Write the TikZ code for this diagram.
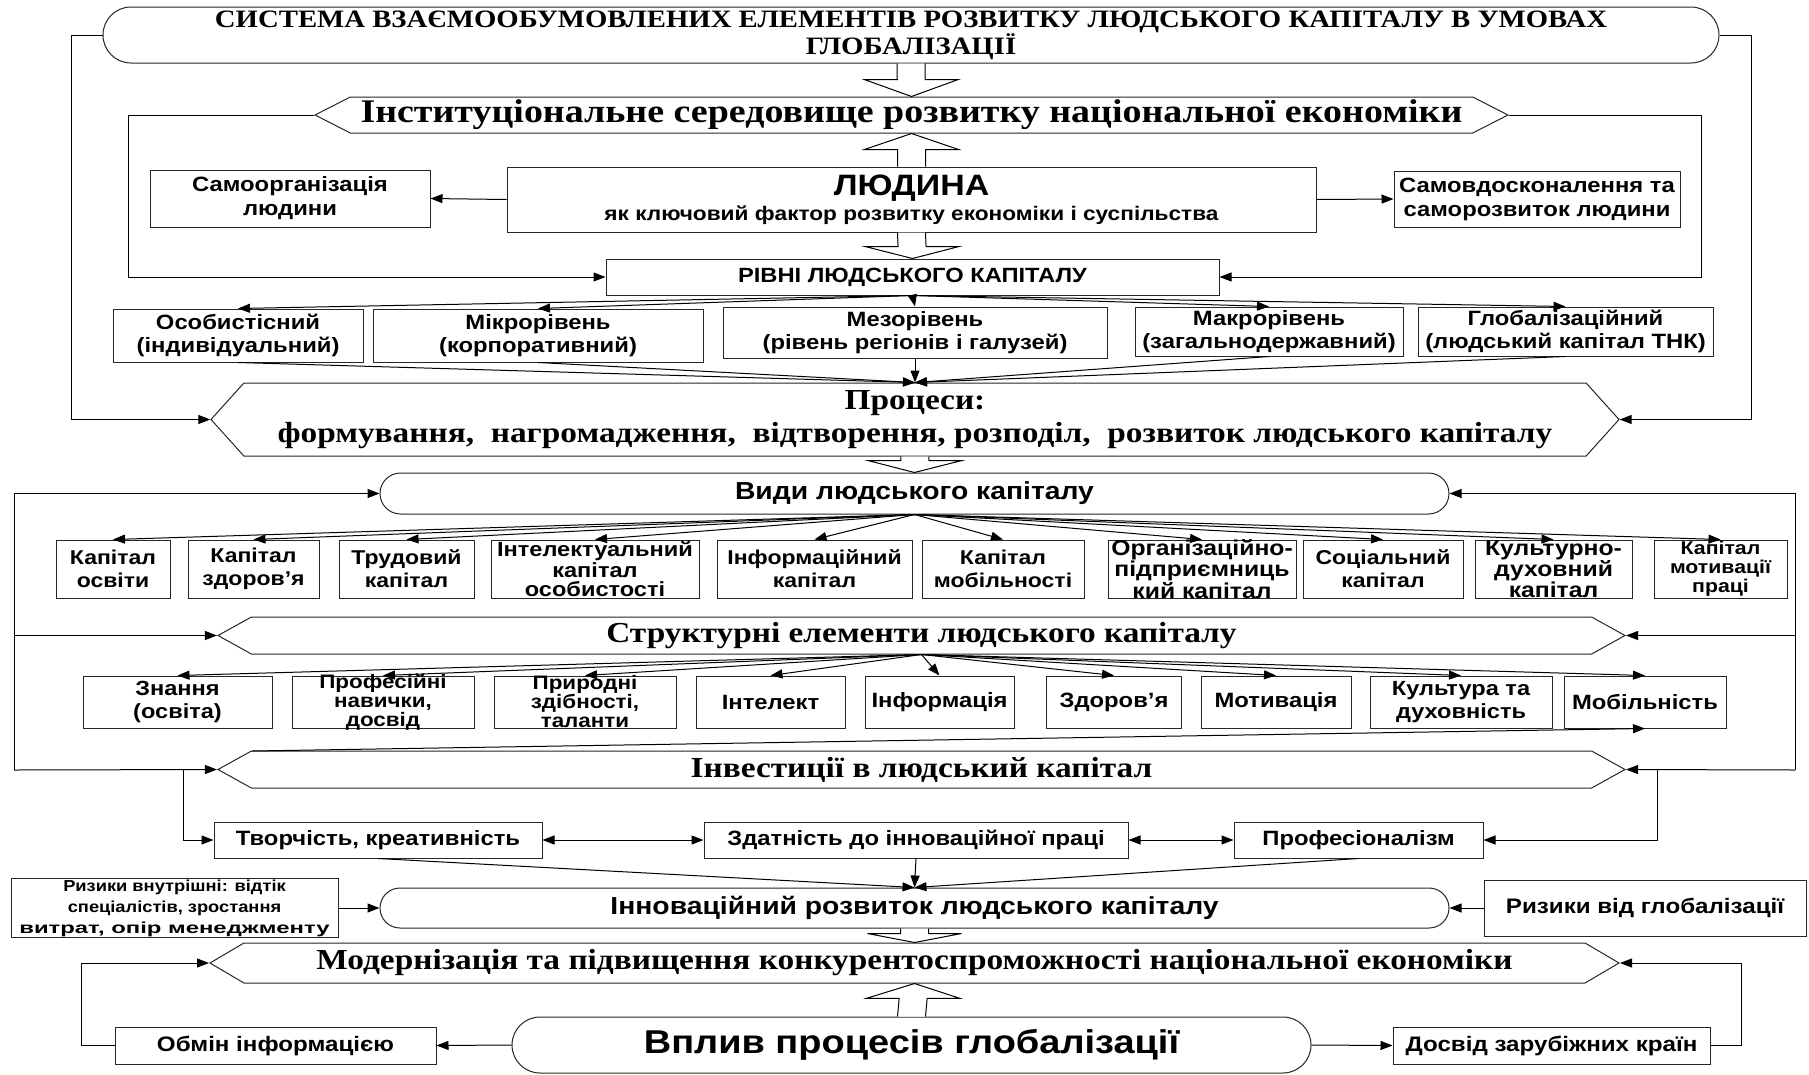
\documentclass[tikz,border=0pt]{standalone}
\usepackage{fontspec}
\setmainfont{Liberation Serif}
\newfontfamily\hdfont[FakeStretch=1.15]{Liberation Serif}
\newfontfamily\lbfont[FakeStretch=1.15]{Liberation Sans}
\newfontfamily\lbwide[FakeStretch=1.5]{Liberation Sans}
\usetikzlibrary{arrows.meta,positioning,calc,shapes.misc,shapes.symbols}
\tikzset{
  box/.style={draw=black!85,fill=white,line width=1pt,inner sep=1pt,align=center,font=\lbfont\bfseries\fontsize{20.7}{24}\selectfont},
  tight/.style={inner ysep=-6pt,font=\lbfont\bfseries\fontsize{20.5}{19}\selectfont},
  pill/.style={draw=black!85,fill=white,line width=1pt,rounded rectangle,inner sep=1pt,align=center,font=\lbfont\bfseries\fontsize{24.6}{26}\selectfont},
  banner/.style={draw=black!85,fill=white,line width=1pt,signal,signal to=east and west,signal pointer angle=#1,inner xsep=1pt,inner ysep=-2pt,align=center,font=\hdfont\bfseries\fontsize{29}{33}\selectfont},
  flow/.style={-{Triangle[length=12pt,width=9pt]},line width=1pt},
  dflow/.style={{Triangle[length=12pt,width=9pt]}-{Triangle[length=12pt,width=9pt]},line width=1pt},
  blockarr/.style={line width=1pt,fill=white}
}
% hollow block arrow: start, tip, head length
\newcommand{\blockarrow}[3]{%
  \coordinate (ba) at ($(#2)!#3!(#1)$);
  \draw[blockarr] ($(#1)+(-14,0)$) -- ($(ba)+(-14,0)$) -- ($(ba)+(-47,0)$) -- (#2) -- ($(ba)+(47,0)$) -- ($(ba)+(14,0)$) -- ($(#1)+(14,0)$);}

\begin{document}
\begin{tikzpicture}[x=1pt,y=-1pt]
  \useasboundingbox (0,0) rectangle (1809,1074);

  % top part
  \node[pill,minimum width=1618pt,minimum height=56pt,font=\hdfont\bfseries\fontsize{25}{27}\selectfont] (title) at (911,35) {СИСТЕМА ВЗАЄМООБУМОВЛЕНИХ ЕЛЕМЕНТІВ РОЗВИТКУ ЛЮДСЬКОГО КАПІТАЛУ В УМОВАХ\\ГЛОБАЛІЗАЦІЇ};
  \node[banner=54,minimum width=1193pt,minimum height=36pt,font=\hdfont\bfseries\fontsize{33}{36}\selectfont] (inst) at (911.5,115) {Інституціональне середовище розвитку національної економіки};
  \node[box,minimum width=809pt,minimum height=65pt,font=\lbfont\bfseries\fontsize{19.7}{25}\selectfont] (lyud) at (911.5,199.5) {{\fontsize{29.5}{29.5}\selectfont ЛЮДИНА}\\як ключовий фактор розвитку економіки і суспільства};
  \node[box,minimum width=280pt,minimum height=57pt] (samoorg) at (290,198.5) {Самоорганізація\\людини};
  \node[box,minimum width=286pt,minimum height=56pt] (samovd) at (1537,199) {Самовдосконалення та\\саморозвиток людини};
  \node[box,minimum width=613pt,minimum height=36pt,font=\lbfont\bfseries\fontsize{20.6}{22}\selectfont] (rivni) at (912.5,277) {РІВНІ ЛЮДСЬКОГО КАПІТАЛУ};

  % levels
  \node[box,minimum width=250pt,minimum height=53pt,font=\lbfont\bfseries\fontsize{20.7}{23}\selectfont] (lv1) at (238,335.5) {Особистісний\\(індивідуальний)};
  \node[box,minimum width=330pt,minimum height=53pt,font=\lbfont\bfseries\fontsize{20.7}{23}\selectfont] (lv2) at (538,335.5) {Мікрорівень\\(корпоративний)};
  \node[box,minimum width=384pt,minimum height=51pt,font=\lbfont\bfseries\fontsize{20.7}{23}\selectfont] (lv3) at (915,332.5) {Мезорівень\\(рівень регіонів і галузей)};
  \node[box,minimum width=268pt,minimum height=49pt,font=\lbfont\bfseries\fontsize{20.7}{23}\selectfont] (lv4) at (1269,331.5) {Макрорівень\\(загальнодержавний)};
  \node[box,minimum width=295pt,minimum height=49pt,font=\lbfont\bfseries\fontsize{20.7}{23}\selectfont] (lv5) at (1565.5,331.5) {Глобалізаційний\\(людський капітал ТНК)};

  \node[banner=96,minimum width=1408pt,minimum height=73pt] (proc) at (915,419.5) {Процеси:\\формування,\ \ нагромадження,\ \ відтворення, розподіл,\ \ розвиток людського капіталу};

  % types
  \node[pill,minimum width=1071pt,minimum height=41pt] (vydy) at (914.5,493.5) {Види людського капіталу};
  \node[box,minimum width=114pt,minimum height=58pt,font=\lbfont\bfseries\fontsize{20}{23}\selectfont] (t1) at (113,569) {Капітал\\освіти};
  \node[box,minimum width=131pt,minimum height=58pt,font=\lbfont\bfseries\fontsize{20}{23}\selectfont] (t2) at (253.5,569) {Капітал\\здоров’я};
  \node[box,minimum width=135pt,minimum height=58pt,font=\lbfont\bfseries\fontsize{20}{23}\selectfont] (t3) at (406.5,569) {Трудовий\\капітал};
  \node[box,tight,minimum width=208pt,minimum height=58pt] (t4) at (595,569) {Інтелектуальний\\капітал\\особистості};
  \node[box,minimum width=195pt,minimum height=58pt,font=\lbfont\bfseries\fontsize{20}{23}\selectfont] (t5) at (814.5,569) {Інформаційний\\капітал};
  \node[box,minimum width=162pt,minimum height=58pt,font=\lbfont\bfseries\fontsize{20}{23}\selectfont] (t6) at (1003,569) {Капітал\\мобільності};
  \node[box,tight,minimum width=188pt,minimum height=58pt,font=\lbfont\bfseries\fontsize{21.5}{19}\selectfont] (t7) at (1202,569) {Організаційно-\\підприємниць\\кий капітал};
  \node[box,minimum width=160pt,minimum height=58pt,font=\lbfont\bfseries\fontsize{20}{23}\selectfont] (t8) at (1383,569) {Соціальний\\капітал};
  \node[box,tight,minimum width=157pt,minimum height=58pt,font=\lbfont\bfseries\fontsize{21.5}{19}\selectfont] (t9) at (1553.5,569) {Культурно-\\духовний\\капітал};
  \node[box,tight,minimum width=133pt,minimum height=58pt,font=\lbfont\bfseries\fontsize{18.5}{19}\selectfont] (t10) at (1720.5,569) {Капітал\\мотивації\\праці};

  % structural elements
  \node[banner=58,minimum width=1407pt,minimum height=37pt] (struct) at (921.5,635.5) {Структурні елементи людського капіталу};
  \node[box,minimum width=189pt,minimum height=52pt,font=\lbfont\bfseries\fontsize{20.5}{23}\selectfont] (e1) at (177.5,702) {Знання\\(освіта)};
  \node[box,tight,minimum width=182pt,minimum height=52pt,font=\lbfont\bfseries\fontsize{19.5}{19}\selectfont] (e2) at (383,702) {Професійні\\навички,\\досвід};
  \node[box,tight,minimum width=182pt,minimum height=52pt,font=\lbfont\bfseries\fontsize{19.5}{19}\selectfont] (e3) at (585,702) {Природні\\здібності,\\таланти};
  \node[box,minimum width=149pt,minimum height=52pt] (e4) at (770.5,702) {Інтелект};
  \node[box,minimum width=149pt,minimum height=52pt] (e5) at (939.5,702) {Інформація};
  \node[box,minimum width=135pt,minimum height=52pt] (e6) at (1114,702) {Здоров’я};
  \node[box,minimum width=150pt,minimum height=52pt] (e7) at (1276,702) {Мотивація};
  \node[box,minimum width=182pt,minimum height=52pt,font=\lbfont\bfseries\fontsize{20.5}{23}\selectfont] (e8) at (1461,702) {Культура та\\духовність};
  \node[box,minimum width=162pt,minimum height=52pt] (e9) at (1645,702) {Мобільність};

  % investments
  \node[banner=58,minimum width=1407pt,minimum height=37pt] (inv) at (921.5,769.5) {Інвестиції в людський капітал};
  \node[box,minimum width=328pt,minimum height=36pt] (kr1) at (378,840) {Творчість, креативність};
  \node[box,minimum width=424pt,minimum height=36pt] (kr2) at (916,840) {Здатність до інноваційної праці};
  \node[box,minimum width=249pt,minimum height=36pt] (kr3) at (1358.5,840) {Професіоналізм};

  % innovation and globalisation
  \node[pill,minimum width=1071pt,minimum height=40pt] (innov) at (914.5,908) {Інноваційний розвиток людського капіталу};
  \node[box,minimum width=327pt,minimum height=58pt,font=\lbfont\bfseries\fontsize{15.9}{21}\selectfont] (rizint) at (174.5,908) {Ризики внутрішні: відтік\\спеціалістів, зростання\\{\lbwide витрат, опір менеджменту}};
  \node[box,minimum width=322pt,minimum height=56pt,font=\lbfont\bfseries\fontsize{21}{23}\selectfont] (rizgl) at (1645,908) {Ризики від глобалізації};
  \node[banner=61,minimum width=1409pt,minimum height=40pt] (modern) at (914.5,963) {Модернізація та підвищення конкурентоспроможності національної економіки};
  \node[pill,minimum width=801pt,minimum height=56pt,font=\lbfont\bfseries\fontsize{33}{35}\selectfont] (vplyv) at (911.5,1045) {Вплив процесів глобалізації};
  \node[box,minimum width=321pt,minimum height=37pt,font=\lbfont\bfseries\fontsize{21}{23}\selectfont] (obmin) at (275.5,1045.5) {Обмін інформацією};
  \node[box,minimum width=317pt,minimum height=37pt,font=\lbfont\bfseries\fontsize{21}{23}\selectfont] (dosvid) at (1551.5,1045.5) {Досвід зарубіжних країн};

  % block arrows
  \blockarrow{title.south}{inst.north}{17pt}
  \blockarrow{lyud.north}{inst.south}{16pt}
  \blockarrow{lyud.south}{rivni.north}{12pt}
  \blockarrow{proc.south}{vydy.north}{12pt}
  \blockarrow{innov.south}{modern.north}{9pt}
  \blockarrow{vplyv.north}{modern.south}{15pt}

  % connectors
  \draw[flow] (lyud.west) -- (samoorg.east);
  \draw[flow] (lyud.east) -- (samovd.west);
  \draw[flow] (inst.west) -- ++(-185,0) |- (rivni.west);
  \draw[flow] (inst.east) -- ++(192,0) |- (rivni.east);
  \foreach \n in {1,...,5} \draw[flow] (rivni.south) -- (lv\n.north);
  \foreach \n in {1,...,5} \draw[flow] (lv\n.south) -- (proc.north);
  \draw[flow] (title.west) -- ++(-31,0) |- (proc.west);
  \draw[flow] (title.east) -- ++(32,0) |- (proc.east);

  \coordinate (lbus) at (14,770);
  \coordinate (rbus) at (1795,770);
  \draw[flow] (lbus) |- (vydy.west);
  \draw[flow] (lbus) |- (struct.west);
  \draw[flow] (lbus) -- (inv.west);
  \draw[flow] (rbus) |- (vydy.east);
  \draw[flow] (rbus) |- (struct.east);
  \draw[flow] (rbus) -- (inv.east);
  \foreach \n in {1,...,10} \draw[flow] (vydy.south) -- (t\n.north);
  \foreach \n in {1,...,9} \draw[flow] (struct.south) -- (e\n.north);
  \coordinate (invcorner) at (252,751);
  \draw[flow] (invcorner) -- (e9.south);

  \coordinate (lbr) at (183,770);
  \coordinate (rbr) at (1657,770);
  \draw[flow] (lbr) |- (kr1.west);
  \draw[flow] (rbr) |- (kr3.east);
  \draw[dflow] (kr1) -- (kr2);
  \draw[dflow] (kr2) -- (kr3);
  \foreach \n in {1,2,3} \draw[flow] (kr\n.south) -- (innov.north);
  \draw[flow] (rizint.east) -- (innov.west);
  \draw[flow] (rizgl.west) -- (innov.east);

  \draw[flow] (vplyv.west) -- (obmin.east);
  \draw[flow] (vplyv.east) -- (dosvid.west);
  \draw[flow] (obmin.west) -- ++(-33,0) |- (modern.west);
  \draw[flow] (dosvid.east) -- ++(31,0) |- (modern.east);
\end{tikzpicture}
\end{document}
